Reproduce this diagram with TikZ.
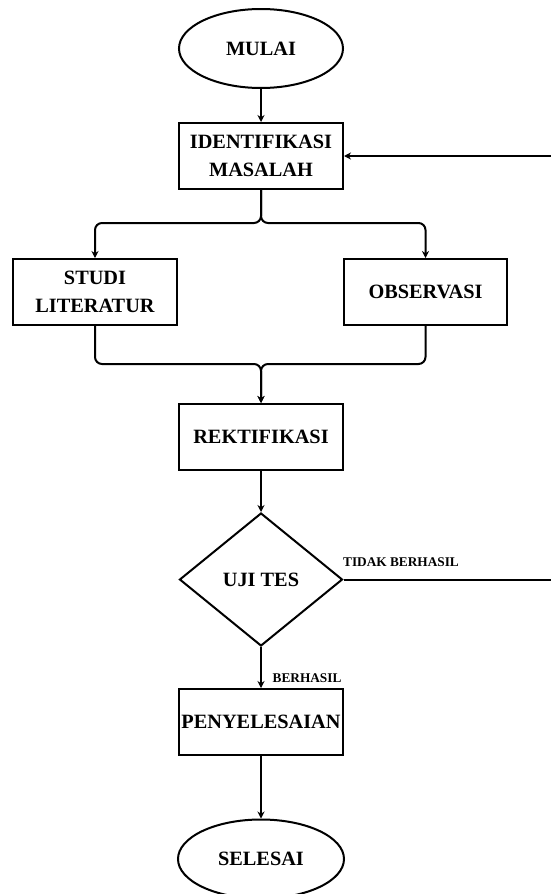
\documentclass[tikz,border=0pt]{standalone}
\usepackage{fontspec}
\setmainfont{Liberation Serif}
\usetikzlibrary{shapes.geometric,arrows.meta,calc}
\begin{document}
\begin{tikzpicture}[x=1pt,y=-1pt,
  every node/.style={font=\fontsize{20.3}{28}\selectfont\bfseries, align=center, inner sep=0pt},
  procbox/.style={draw, line width=2pt, rectangle, minimum width=164pt, minimum height=66pt},
  termbox/.style={draw, line width=2pt, ellipse, minimum width=164pt, minimum height=79pt},
  decbox/.style={draw, line width=2pt, diamond, minimum width=163pt, minimum height=133pt},
  conn/.style={line width=2pt, -{Stealth[length=7pt,width=7pt]}},
  plainconn/.style={line width=2pt},
  lbl/.style={font=\fontsize{13.3}{15}\selectfont\bfseries, anchor=west}
]
\useasboundingbox (0,0) rectangle (551,894);
\fill[white] (0,0) rectangle (551,894);
\node[termbox] (mulai) at (261,48.5) {MULAI};
\node[procbox] (ident) at (261,156) {IDENTIFIKASI\\MASALAH};
\node[procbox] (studi) at (95,292) {STUDI\\LITERATUR};
\node[procbox, minimum width=163pt] (obs) at (425.5,292) {OBSERVASI};
\node[procbox] (rekt) at (261,437) {REKTIFIKASI};
\node[decbox] (uji) at (261,579.5) {UJI TES};
\node[procbox] (peny) at (261,722) {PENYELESAIAN};
\node[termbox, minimum width=166pt] (sel) at (261,859) {SELESAI};

\coordinate (fbtop) at (551,156);
\coordinate (fbbot) at (551,579.5);

\draw[conn] (mulai) -- (ident);
\draw[conn, rounded corners=7pt] (ident.south) |- ($(studi.north)+(0,-35)$) -- (studi.north);
\draw[conn, rounded corners=7pt] (ident.south) |- ($(obs.north)+(0,-35)$) -- (obs.north);
\draw[conn, rounded corners=7pt] (studi.south) |- ($(rekt.north)+(0,-39)$) -- (rekt.north);
\draw[conn, rounded corners=7pt] (obs.south) |- ($(rekt.north)+(0,-39)$) -- (rekt.north);
\draw[conn] (rekt) -- (uji);
\draw[conn] (uji) -- (peny);
\node[lbl] (berhasil) at (272.5,678) {BERHASIL};
\draw[conn] (peny) -- (sel);
\draw[plainconn] (uji.east) -- (fbbot);
\node[lbl] (tidak) at (343,562) {TIDAK BERHASIL};
\draw[conn] (fbtop) -- (ident.east);
\end{tikzpicture}
\end{document}
